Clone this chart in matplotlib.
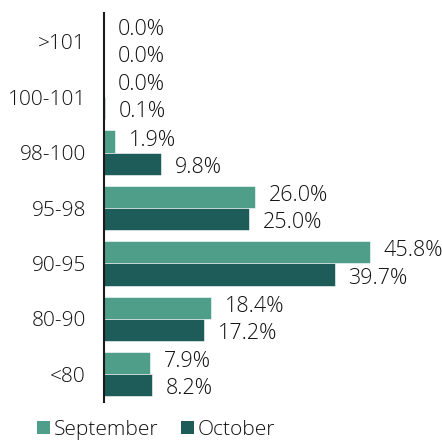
import matplotlib
matplotlib.use("Agg")
import matplotlib.pyplot as plt
from matplotlib.patches import Patch
import numpy as np

categories = [">101", "100-101", "98-100", "95-98", "90-95", "80-90", "<80"]
september = [0.0, 0.0, 1.9, 26.0, 45.8, 18.4, 7.9]
october = [0.0, 0.1, 9.8, 25.0, 39.7, 17.2, 8.2]
series_names = ["September", "October"]
colors = ["#4e9e8a", "#1d5c58"]

plt.rcParams['font.family'] = ['Open Sans', 'DejaVu Sans']

fig = plt.figure(figsize=(4.42, 4.40), dpi=100)
ax = fig.add_axes([104/442, 38/440, 338/442, 389/440])

y = np.arange(len(categories))
h = 0.4
for vals, off, c, dy in [(september, -h/2, colors[0], 1.0), (october, h/2, colors[1], -2.5)]:
    ax.barh(y + off, vals, height=h, color=c, edgecolor='white', linewidth=0.4)
    for yi, v in zip(y + off, vals):
        ax.annotate(f"{v:.1f}%", (v, yi), xytext=(10, dy), textcoords='offset points',
                    va='center', ha='left', fontsize=15.5, fontweight='light', color='#111111')

ax.set_xlim(0, 58.2)
ax.set_ylim(6.5, -0.52)
ax.set_yticks(y)
ax.set_yticklabels(categories, fontsize=15, fontweight='light', color='#111111')
ax.tick_params(axis='y', length=0, pad=13)
ax.set_xticks([])
for s in ['top', 'right', 'bottom']:
    ax.spines[s].set_visible(False)
ax.spines['left'].set_linewidth(1.5)
ax.spines['left'].set_color('#1a1a1a')

handles = [Patch(facecolor=colors[0], edgecolor='none'), Patch(facecolor=colors[1], edgecolor='none')]
fig.legend(handles, series_names, loc='center left', bbox_to_anchor=(37/442, 10/440), ncol=2,
           frameon=False, borderpad=0, borderaxespad=0, handlelength=0.6, handleheight=0.6,
           handletextpad=0.2, columnspacing=1.1,
           prop={'size': 15, 'weight': 'light'}, labelcolor='#111111')

fig.savefig("out.png", dpi=100)
